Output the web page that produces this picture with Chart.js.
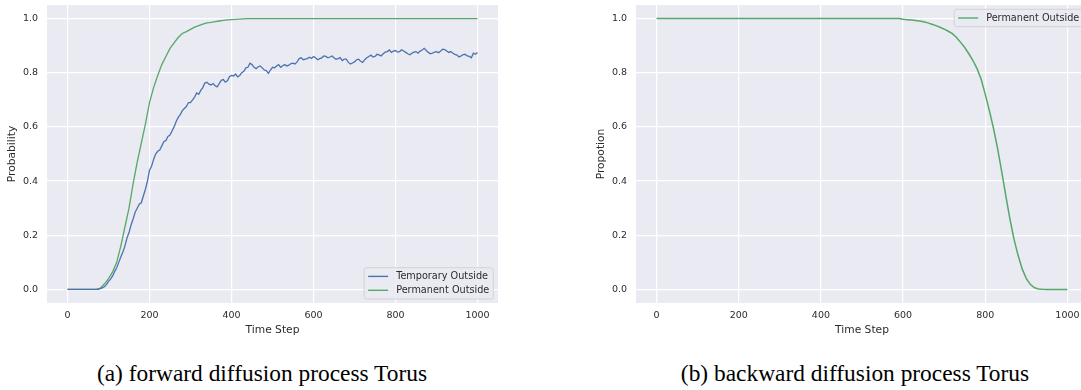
<!DOCTYPE html>
<html>
<head>
<meta charset="utf-8">
<script src="https://cdn.jsdelivr.net/npm/chart.js@4.4.1/dist/chart.umd.min.js"></script>
<style>
  html, body { margin: 0; padding: 0; background: #fff; }
  body { width: 1081px; height: 390px; overflow: hidden; position: relative; }
  .panel { position: absolute; top: 0; }
  .caption {
    position: absolute; top: 360px; width: 500px; text-align: center;
    font-family: "Liberation Serif", "Times New Roman", serif; font-size: 23.4px; color: #000;
    white-space: nowrap;
  }
</style>
</head>
<body>
<div class="panel" style="left:0px;"><canvas id="fwdChart" width="520" height="340"></canvas></div>
<div class="panel" style="left:580px;"><canvas id="bwdChart" width="520" height="340"></canvas></div>
<div class="caption" style="left:12px;">(a) forward diffusion process Torus</div>
<div class="caption" style="left:605px;">(b) backward diffusion process Torus</div>

<script>
// time steps: every 10 for the smooth curves, every 5 for the noisy one
const steps = Array.from({ length: 101 }, (_, i) => i * 10);
const fineSteps = Array.from({ length: 201 }, (_, i) => i * 5);

// (a) forward process
const fwdTemporary = [
    0, 0, 0, 0, 0, 0, 0, 0, 0, 0,
    0, 0, 0, 0, 0, 0, 0.003, 0.006, 0.01, 0.018,
    0.03, 0.038, 0.05, 0.066, 0.08, 0.1, 0.12, 0.138, 0.16, 0.19,
    0.21, 0.238, 0.26, 0.285, 0.30, 0.315, 0.32, 0.345, 0.37, 0.4,
    0.44, 0.455, 0.48, 0.5, 0.51, 0.515, 0.53, 0.545, 0.55, 0.565,
    0.57, 0.585, 0.60, 0.62, 0.635, 0.645, 0.66, 0.668, 0.675, 0.69,
    0.69, 0.70, 0.71, 0.725, 0.72, 0.735, 0.745, 0.762, 0.765, 0.758,
    0.755, 0.76, 0.752, 0.748, 0.76, 0.772, 0.775, 0.765, 0.77, 0.785,
    0.79, 0.788, 0.795, 0.785, 0.79, 0.8, 0.805, 0.818, 0.82, 0.835,
    0.83, 0.82, 0.815, 0.822, 0.825, 0.818, 0.81, 0.808, 0.798, 0.81,
    0.82, 0.818, 0.825, 0.83, 0.82, 0.826, 0.83, 0.825, 0.828, 0.834,
    0.835, 0.832, 0.84, 0.852, 0.855, 0.848, 0.85, 0.852, 0.857, 0.853,
    0.86, 0.855, 0.848, 0.852, 0.855, 0.862, 0.86, 0.855, 0.858, 0.862,
    0.855, 0.85, 0.852, 0.856, 0.845, 0.85, 0.85, 0.838, 0.832, 0.836,
    0.84, 0.848, 0.85, 0.842, 0.838, 0.848, 0.855, 0.86, 0.865, 0.858,
    0.86, 0.868, 0.866, 0.862, 0.87, 0.876, 0.878, 0.884, 0.875, 0.88,
    0.882, 0.876, 0.878, 0.885, 0.88, 0.875, 0.87, 0.866, 0.872, 0.876,
    0.878, 0.872, 0.88, 0.884, 0.89, 0.882, 0.875, 0.87, 0.872, 0.876,
    0.878, 0.874, 0.88, 0.887, 0.885, 0.88, 0.875, 0.878, 0.872, 0.868,
    0.865, 0.858, 0.862, 0.867, 0.868, 0.862, 0.86, 0.855, 0.872, 0.868,
    0.875
];
const fwdPermanent = [
    0, 0, 0, 0, 0, 0, 0, 0, 0.005, 0.02,
    0.04, 0.065, 0.10, 0.16, 0.23, 0.30, 0.39, 0.47, 0.54, 0.61,
    0.69, 0.745, 0.79, 0.83, 0.86, 0.89, 0.91, 0.93, 0.945, 0.952,
    0.96, 0.968, 0.974, 0.979, 0.984, 0.986, 0.989, 0.991, 0.993, 0.995,
    0.996, 0.997, 0.998, 0.999, 1, 1, 1, 1, 1, 1,
    1, 1, 1, 1, 1, 1, 1, 1, 1, 1,
    1, 1, 1, 1, 1, 1, 1, 1, 1, 1,
    1, 1, 1, 1, 1, 1, 1, 1, 1, 1,
    1, 1, 1, 1, 1, 1, 1, 1, 1, 1,
    1, 1, 1, 1, 1, 1, 1, 1, 1, 1,
    1
];

// (b) backward process
const bwdPermanent = [
    1, 1, 1, 1, 1, 1, 1, 1, 1, 1,
    1, 1, 1, 1, 1, 1, 1, 1, 1, 1,
    1, 1, 1, 1, 1, 1, 1, 1, 1, 1,
    1, 1, 1, 1, 1, 1, 1, 1, 1, 1,
    1, 1, 1, 1, 1, 1, 1, 1, 1, 1,
    1, 1, 1, 1, 1, 1, 1, 1, 1, 1,
    0.997, 0.996, 0.995, 0.993, 0.991, 0.988, 0.984, 0.979, 0.974, 0.968,
    0.961, 0.953, 0.944, 0.93, 0.912, 0.893, 0.87, 0.845, 0.815, 0.776,
    0.72, 0.66, 0.595, 0.52, 0.435, 0.345, 0.26, 0.185, 0.125, 0.075,
    0.04, 0.018, 0.006, 0.002, 0.0005, 0, 0, 0, 0, 0,
    0
];

const xTicks = [0, 200, 400, 600, 800, 1000];
const yTicks = [0, 0.2, 0.4, 0.6, 0.8, 1.0];

const BLUE = '#4c72b0';
const GREEN = '#55a868';
const TEXT = '#2b2b2b';

// seaborn darkgrid background
const bgPlugin = {
    id: 'axesBg',
    beforeDraw(chart) {
        const { ctx, chartArea: a } = chart;
        ctx.save();
        ctx.fillStyle = '#eaeaf2';
        ctx.fillRect(a.left, a.top, a.right - a.left, a.bottom - a.top);
        ctx.restore();
    }
};

// matplotlib-like legend box inside the axes
const boxLegend = {
    id: 'boxLegend',
    afterDraw(chart, args, opts) {
        const { ctx, chartArea: a } = chart;
        const sets = chart.data.datasets;
        ctx.save();
        ctx.font = '9.7px "DejaVu Sans"';
        const textW = Math.max(...sets.map(d => ctx.measureText(d.label).width));
        const pad = 4, handle = 20, gap = 8, rowH = 9.6, rowGap = 4.3;
        const w = pad + handle + gap + textW + pad;
        const h = 3.9 * 2 + sets.length * rowH + (sets.length - 1) * rowGap;
        const x = a.right - 4.7 - w;
        const y = opts.where === 'upper' ? a.top + 4.3 : a.bottom - 4 - h;

        ctx.beginPath();
        ctx.roundRect(x, y, w, h, 2.5);
        ctx.fillStyle = 'rgba(234,234,242,0.8)';
        ctx.fill();
        ctx.strokeStyle = 'rgba(204,204,204,0.9)';
        ctx.lineWidth = 0.9;
        ctx.stroke();

        sets.forEach((d, i) => {
            const cy = y + 3.9 + rowH / 2 + i * (rowH + rowGap);
            ctx.beginPath();
            ctx.moveTo(x + pad, cy);
            ctx.lineTo(x + pad + handle, cy);
            ctx.strokeStyle = d.borderColor;
            ctx.lineWidth = 1.4;
            ctx.stroke();
            ctx.fillStyle = TEXT;
            ctx.textBaseline = 'middle';
            ctx.textAlign = 'left';
            ctx.fillText(d.label, x + pad + handle + gap, cy);
        });
        ctx.restore();
    }
};

function toPoints(xs, values) {
    return values.map((v, i) => ({ x: xs[i], y: v }));
}

function noEdgePadding(s) {
    s.paddingTop = 0;
    s.paddingBottom = 0;
    s.paddingLeft = 0;
    s.paddingRight = 0;
}

function makeChart(canvasId, datasets, yTitle, yWidth, yTitlePad, rightPad, legendWhere) {
    const ctx = document.getElementById(canvasId).getContext('2d');
    return new Chart(ctx, {
        type: 'line',
        data: { datasets },
        options: {
            responsive: false,
            animation: false,
            devicePixelRatio: 1,
            layout: { padding: { left: 0, top: 5, right: rightPad, bottom: 0 } },
            elements: { point: { radius: 0 }, line: { tension: 0 } },
            scales: {
                x: {
                    type: 'linear',
                    min: -50,
                    max: 1050,
                    afterBuildTicks: s => { s.ticks = xTicks.map(v => ({ value: v })); },
                    afterFit: s => { s.height = 37; noEdgePadding(s); },
                    grid: { color: '#ffffff', lineWidth: 1.2, drawTicks: false },
                    border: { display: false },
                    ticks: {
                        padding: 6.5,
                        color: TEXT,
                        font: { family: 'DejaVu Sans', size: 9.5 },
                        callback: v => String(v)
                    },
                    title: {
                        display: true,
                        text: 'Time Step',
                        color: TEXT,
                        font: { family: 'DejaVu Sans', size: 10.7 },
                        padding: { top: 3.6, bottom: 3.6 }
                    }
                },
                y: {
                    min: -0.05,
                    max: 1.05,
                    afterBuildTicks: s => { s.ticks = yTicks.map(v => ({ value: v })); },
                    afterFit: s => { s.width = yWidth; noEdgePadding(s); },
                    grid: { color: '#ffffff', lineWidth: 1.2, drawTicks: false },
                    border: { display: false },
                    ticks: {
                        padding: 9,
                        color: TEXT,
                        font: { family: 'DejaVu Sans', size: 9.5 },
                        callback: v => Number(v).toFixed(1)
                    },
                    title: {
                        display: true,
                        text: yTitle,
                        color: TEXT,
                        font: { family: 'DejaVu Sans', size: 10.7 },
                        padding: { top: yTitlePad, bottom: yTitlePad }
                    }
                }
            },
            plugins: {
                legend: { display: false },
                tooltip: { enabled: false },
                boxLegend: { where: legendWhere }
            }
        },
        plugins: [bgPlugin, boxLegend]
    });
}

makeChart('fwdChart', [
    { label: 'Temporary Outside', data: toPoints(fineSteps, fwdTemporary), borderColor: BLUE, borderWidth: 1.3 },
    { label: 'Permanent Outside', data: toPoints(steps, fwdPermanent), borderColor: GREEN, borderWidth: 1.3 }
], 'Probability', 47, 6, 22, 'lower');

makeChart('bwdChart', [
    { label: 'Permanent Outside', data: toPoints(steps, bwdPermanent), borderColor: GREEN, borderWidth: 1.5 }
], 'Propotion', 56, 15.3, 12, 'upper');
</script>
</body>
</html>
